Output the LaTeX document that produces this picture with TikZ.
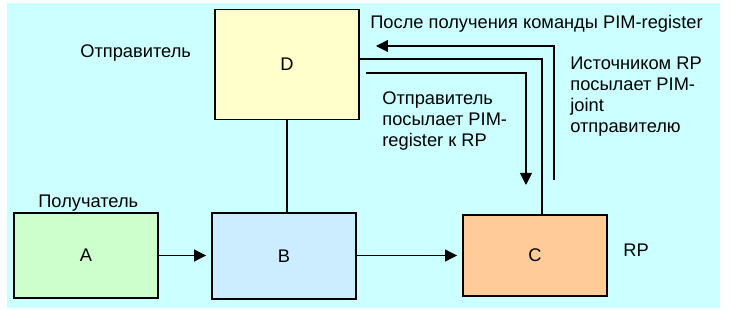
\documentclass[tikz,border=0pt]{standalone}
\usepackage{fontspec}
\setmainfont{Liberation Sans}
\usetikzlibrary{arrows.meta, positioning}
\definecolor{bgcyan}{HTML}{CCFFFF}
\definecolor{fillD}{HTML}{FFFFCC}
\definecolor{fillA}{HTML}{CCFFCC}
\definecolor{fillB}{HTML}{CCECFF}
\definecolor{fillC}{HTML}{FFCC99}

\begin{document}
\begin{tikzpicture}[x=0.02cm,y=-0.02cm,
    box/.style={rectangle,draw=black,line width=1.1pt,minimum width=2.88cm,
                inner sep=0pt,font=\fontsize{10.4}{12}\selectfont},
    lbl/.style={inner sep=0pt,anchor=base west,align=left,
                font=\fontsize{10.4}{12}\selectfont},
    link/.style={line width=0.6pt},
    flow/.style={link,-{Triangle[length=0.24cm,width=0.24cm]}}]
    \useasboundingbox(0,0)rectangle(735,310);
    \fill[bgcyan](7,3)rectangle(720,308);
    % Boxes
    \node[box,fill=fillD,minimum height=2.2cm](D)at(287,64.5){D};
    \node[box,fill=fillA,minimum height=1.7cm](A)at(86,255.5){A};
    \node[box,fill=fillB,minimum height=1.72cm](B)at(284,256){B};
    \node[box,fill=fillC,minimum height=1.62cm](C)at(535,255.5){C};
    % Labels (multi-line ones sit on their last baseline)
    \node[lbl](lSender)at(80,58){Отправитель};
    \node[lbl](lRecv)at(38,208){Получатель};
    \node[lbl](lRP)at(623,257){RP};
    \node[lbl](lAfter)at(370,29){После получения команды PIM-register};
    \node[lbl](lJoin)at(570,133){Источником RP\\посылает PIM-\\joint\\отправителю};
    \node[lbl](lReg)at(382,147){Отправитель\\посылает PIM-\\register к RP};
    % Links
    \draw[link](D.south)--(D.south|-B.north);
    \draw[flow,shorten >=0.1cm](A.east)--(A.east-|B.west);
    \draw[flow,shorten >=0.1cm](B.east|-A.east)--(A.east-|C.west);
    \coordinate(tCorner)at(542,59);
    \draw[link](D.east|-tCorner)--(tCorner)--(tCorner|-C.north);
    % Register and join paths
    \coordinate(regStart)at(366,73);
    \coordinate(regCorner)at(526,73);
    \coordinate(regEnd)at(526,185);
    \draw[flow](regStart)--(regCorner)--(regEnd);
    \coordinate(joinStart)at(554,180);
    \coordinate(joinCorner)at(554,46);
    \coordinate(joinEnd)at(376,46);
    \draw[flow](joinStart)--(joinCorner)--(joinEnd);
\end{tikzpicture}
\end{document}
